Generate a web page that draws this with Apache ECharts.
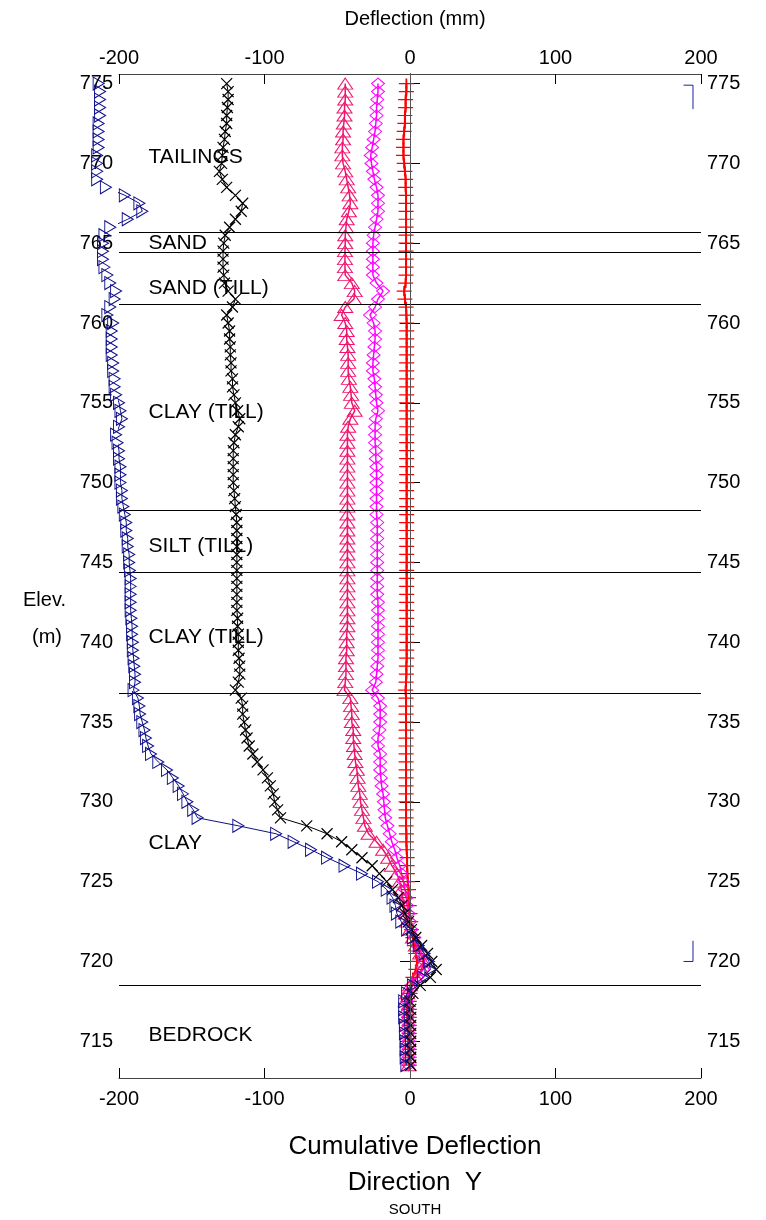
<!DOCTYPE html>
<html>
<head>
<meta charset="utf-8">
<script src="https://cdn.jsdelivr.net/npm/echarts@6/dist/echarts.min.js"></script>
<style>
  html, body { margin: 0; padding: 0; background: #fff; }
  #chart-container { width: 766px; height: 1220px; }
</style>
</head>
<body>
<div id="chart-container"></div>
<script>
// elevation of each reading (m)
var elevations = [
  775, 774.5, 774, 773.5, 773, 772.5, 772, 771.5, 771, 770.5,
  770, 769.5, 769, 768.5, 768, 767.5, 767, 766.5, 766, 765.5,
  765, 764.5, 764, 763.5, 763, 762.5, 762, 761.5, 761, 760.5,
  760, 759.5, 759, 758.5, 758, 757.5, 757, 756.5, 756, 755.5,
  755, 754.5, 754, 753.5, 753, 752.5, 752, 751.5, 751, 750.5,
  750, 749.5, 749, 748.5, 748, 747.5, 747, 746.5, 746, 745.5,
  745, 744.5, 744, 743.5, 743, 742.5, 742, 741.5, 741, 740.5,
  740, 739.5, 739, 738.5, 738, 737.5, 737, 736.5, 736, 735.5,
  735, 734.5, 734, 733.5, 733, 732.5, 732, 731.5, 731, 730.5,
  730, 729.5, 729, 728.5, 728, 727.5, 727, 726.5, 726, 725.5,
  725, 724.5, 724, 723.5, 723, 722.5, 722, 721.5, 721, 720.5,
  720, 719.5, 719, 718.5, 718, 717.5, 717, 716.5, 716, 715.5,
  715, 714.5, 714, 713.5
];

// cumulative deflection (mm), one value per elevation
var navyDefl = [
  -214, -213, -213, -213, -213, -214, -214, -214, -214, -215,
  -215, -215, -215, -209, -196, -186, -184, -194, -206, -210,
  -211, -211, -211, -210, -208, -206, -202, -203, -206, -208,
  -204, -205, -205, -205, -205, -204, -204, -203, -203, -202,
  -200, -199, -198, -200, -202, -201, -200, -200, -199, -199,
  -199, -198, -198, -197, -196, -195, -195, -194, -194, -193,
  -193, -192.5, -192, -192, -192, -192, -192, -191.5, -191, -191,
  -190.5, -190.5, -190, -189.5, -189, -189, -190, -187, -186, -185.5,
  -184, -182.5, -181.5, -180, -178, -173, -167, -163, -159, -156,
  -153, -149, -146, -118, -92, -80, -68, -57, -45, -33,
  -22, -16, -12, -10, -9, -6, -2, 2, 6, 10,
  13, 14, 9, 2, -2, -4, -4, -4, -3.5, -3.5,
  -3, -3, -3, -2.5
];
var blackDefl = [
  -126, -125, -125, -125.5, -126, -126, -127, -127.5, -128.5, -129,
  -129.5, -131, -129, -126, -120, -115, -116, -120, -124, -127,
  -128, -128.5, -128.5, -128.5, -128, -127.5, -125, -120, -122, -126,
  -125, -124, -124, -123.5, -123.5, -123, -123, -122, -122, -121,
  -120, -118.5, -117, -118, -120, -121, -121.5, -121.5, -121.5, -121.5,
  -121.5, -121, -120.5, -120, -119.5, -119, -119, -119, -119, -119,
  -119, -119, -119, -119, -119, -119, -119, -118.5, -118.5, -118,
  -118, -118, -117.5, -117, -117, -118, -120, -116, -115, -115,
  -114, -113, -112, -110.5, -108, -105, -101, -98, -96, -94,
  -93, -91, -89, -71, -57, -47, -40, -33, -26, -21,
  -16, -12, -8, -5.5, -3.5, -1, 1, 4, 8, 12,
  15, 18, 14, 7, 2, 0, 0.5, 0.5, 0.5, 0.5,
  0.5, 0.5, 0.5, 0.5
];
var pinkDefl = [
  -44.5, -44.5, -44.5, -45, -45, -45.5, -46, -46, -46.5, -46.5,
  -46, -44.5, -43.5, -42.5, -41.5, -41, -42, -43.5, -44, -44.5,
  -44.5, -44.7, -44.7, -44.7, -44.5, -40, -38, -38.5, -44.5, -47,
  -44.5, -43.5, -43.5, -43, -42.5, -42.5, -42.5, -42, -41, -40.5,
  -40, -38, -41, -42.5, -43, -43, -43, -43, -43, -43,
  -43, -43, -43, -43, -43, -43, -43, -43, -43, -43,
  -43, -43, -43, -43, -43, -43, -43, -43, -43, -43.5,
  -43.5, -43.5, -44, -44, -44, -44.5, -45, -41, -40.5, -40,
  -40, -39, -39, -38.5, -38, -37.5, -36.5, -36, -35.5, -34.5,
  -34, -33, -32, -31, -28.5, -23, -18.5, -15, -12.5, -9,
  -7, -6, -5, -4, -3, -2, 0, 2, 4, 7,
  9, 8, 4, 0, -2, -3, -2.5, -2, -2, -1.5,
  -1.5, -1.5, -1, -1
];
var magentaDefl = [
  -22, -22, -22.5, -23, -23, -23.5, -24, -25, -26, -27,
  -26.5, -25.5, -24.5, -23, -22, -22, -22, -23, -24, -25,
  -25.5, -25.5, -25.5, -25.5, -25.5, -23, -18.5, -22, -24, -27.5,
  -25, -24, -24, -24.5, -25, -25.5, -25.5, -24.5, -24, -23.5,
  -23, -22, -23.5, -24, -24, -24, -23.5, -23.5, -23, -23,
  -23, -23, -23, -23, -23, -22.5, -22.5, -22.5, -22.5, -22.5,
  -22.5, -22.5, -22.5, -22.5, -22.5, -22, -22, -22, -22, -22,
  -22, -22, -22, -22.5, -23, -23.5, -26, -22, -20.5, -20.5,
  -20.5, -21, -22, -22, -20.5, -20.5, -20.5, -20, -19.5, -18.5,
  -18, -17.5, -17, -15.5, -14, -12.5, -10.5, -9, -7, -5.8,
  -4.5, -3.5, -2.5, -2, -1, 0, 1, 3, 5, 8,
  10, 9, 5, 1, -1, -2, -1.5, -1.5, -1, -1,
  -1, -1, -1, -1
];
var redDefl = [
  -2.5, -2.5, -3, -3, -3.5, -3.5, -4, -4.5, -4.5, -4.5,
  -4, -3.5, -3, -3, -2.7, -2.7, -2.7, -2.7, -2.7, -2.7,
  -2.7, -2.7, -2.7, -2.7, -2.7, -3, -4, -3.5, -2.7, -2.5,
  -2.3, -2.3, -2.3, -2.3, -2.3, -2.3, -2.3, -2.3, -2.3, -2.3,
  -2.3, -2.3, -2.3, -2.3, -2.3, -2.3, -2.3, -2.3, -2.3, -2.3,
  -2.3, -2.3, -2.3, -2.3, -2.3, -2.3, -2.3, -2.3, -2.3, -2.3,
  -2.3, -2.3, -2.3, -2.3, -2.3, -2.3, -2.3, -2.3, -2.3, -2.3,
  -2.3, -2.3, -2.3, -2.5, -2.5, -2.7, -3, -2.7, -2.7, -2.7,
  -2.7, -2.7, -2.7, -2.7, -2.7, -2.7, -2.7, -2.7, -2.7, -2.7,
  -2.7, -2.7, -2.7, -2.7, -2.5, -2.5, -2.3, -2, -2, -1.8,
  -1.5, -1, -1, -0.5, 0, 0.5, 1, 2, 3, 4,
  5, 4, 2, 1, 0, -0.5, -0.5, -0.5, -0.5, -0.5,
  -0.5, -0.5, -0.5, -0.5
];

// small blue brackets at the right edge: [deflection, elevation]
var bracketTop = [[188, 774.9], [194.5, 774.9], [194.5, 773.4]];
var bracketBottom = [[194.5, 721.3], [194.5, 720.0], [188, 720.0]];

// soil layers
var layerBounds = [765.7, 764.45, 761.15, 748.3, 744.4, 736.8, 718.5];
var layerNames = ["TAILINGS", "SAND", "SAND (TILL)", "CLAY (TILL)", "SILT (TILL)", "CLAY (TILL)", "CLAY", "BEDROCK"];
var layerLabelElev = [770.4, 765.0, 762.2, 754.4, 746.0, 740.3, 727.4, 715.4];
var layerLabelX = -180;

var elevTicks = [715, 720, 725, 730, 735, 740, 745, 750, 755, 760, 765, 770, 775];

var FONT = "Liberation Sans, Arial, sans-serif";

function pairs(values) {
  return values.map(function (v, i) { return [v, elevations[i]]; });
}

var dom = document.getElementById("chart-container");
var myChart = echarts.init(dom, null, { renderer: "canvas" });

var yAxisBase = {
  type: "value",
  min: 712.7,
  max: 775.6,
  axisLine: { show: true, lineStyle: { color: "#444", width: 1 } },
  axisTick: { show: true, inside: true, length: 10, customValues: elevTicks, lineStyle: { color: "#000" } },
  axisLabel: { customValues: elevTicks, fontSize: 20, color: "#000", fontFamily: FONT, margin: 6 },
  splitLine: { show: false }
};
var xAxisBase = {
  type: "value",
  min: -200,
  max: 200,
  interval: 100,
  axisLine: { show: true, onZero: false, lineStyle: { color: "#444", width: 1 } },
  axisTick: { show: true, inside: true, length: 10, lineStyle: { color: "#000" } },
  axisLabel: { fontSize: 20, color: "#000", fontFamily: FONT, margin: 11 },
  splitLine: { show: false }
};

var hollow = function (c) {
  return { color: "rgba(0,0,0,0)", borderColor: c, borderWidth: 1 };
};

var titleText = function (size) {
  return { fontSize: size, fontWeight: "normal", color: "#000", fontFamily: FONT };
};

var option = {
  animation: false,
  backgroundColor: "#fff",
  textStyle: { fontFamily: FONT },
  title: [
    { text: "Deflection (mm)", left: 410, top: 4, textAlign: "center", textStyle: titleText(20) },
    { text: "Cumulative Deflection", left: 410, top: 1129, textAlign: "center", textStyle: titleText(26) },
    { text: "Direction  Y", left: 410, top: 1165, textAlign: "center", textStyle: titleText(26) },
    { text: "SOUTH", left: 410, top: 1197, textAlign: "center", textStyle: titleText(15) },
    { text: "Elev.", left: 18, top: 585, textStyle: titleText(20) },
    { text: "(m)", left: 27, top: 622, textStyle: titleText(20) }
  ],
  grid: { left: 119, right: 65, top: 74, bottom: 142, containLabel: false },
  xAxis: [
    Object.assign({}, xAxisBase, { position: "bottom" }),
    Object.assign({}, xAxisBase, {
      position: "top",
      axisLabel: { fontSize: 20, color: "#000", fontFamily: FONT, margin: 6 }
    })
  ],
  yAxis: [
    Object.assign({}, yAxisBase, { position: "left" }),
    Object.assign({}, yAxisBase, { position: "right", axisLine: { show: true, lineStyle: { color: "#000", width: 1 } } })
  ],
  series: [
    {
      name: "layers",
      type: "scatter",
      symbolSize: 1,
      itemStyle: { color: "rgba(0,0,0,0)", opacity: 1 },
      label: {
        show: true, position: "right", distance: 0, formatter: "{b}",
        fontSize: 21, color: "#000", fontFamily: FONT
      },
      data: layerNames.map(function (n, i) {
        return { name: n, value: [layerLabelX, layerLabelElev[i]] };
      }),
      markLine: {
        silent: true,
        symbol: "none",
        label: { show: false },
        animation: false,
        data: layerBounds.map(function (e) {
          return { yAxis: e, lineStyle: { color: "#000", width: 1, type: "solid" } };
        }).concat([{ xAxis: 0, lineStyle: { color: "#555", width: 1, type: "solid" } }])
      },
      z: 1
    },
    {
      name: "red",
      type: "line",
      clip: false,
      showAllSymbol: true,
      symbol: "path://M0,5L15,5M7.5,0L7.5,10",
      symbolSize: [15, 10],
      itemStyle: { color: "rgba(0,0,0,0)", borderColor: "#ff0000", borderWidth: 1.5 },
      lineStyle: { color: "#ff0000", width: 2 },
      data: pairs(redDefl),
      z: 3
    },
    {
      name: "magenta",
      type: "line",
      clip: false,
      showAllSymbol: true,
      symbol: "diamond",
      symbolSize: [13, 11],
      itemStyle: hollow("#ff00ff"),
      lineStyle: { color: "#ff00ff", width: 1.5 },
      data: pairs(magentaDefl),
      z: 3
    },
    {
      name: "pink",
      type: "line",
      clip: false,
      showAllSymbol: true,
      symbol: "triangle",
      symbolSize: [15, 11],
      itemStyle: hollow("#f0146e"),
      lineStyle: { color: "#f0146e", width: 1.5 },
      data: pairs(pinkDefl),
      z: 3
    },
    {
      name: "black",
      type: "line",
      clip: false,
      showAllSymbol: true,
      symbol: "path://M0,0L10,10M10,0L0,10",
      symbolSize: 11,
      itemStyle: { color: "rgba(0,0,0,0)", borderColor: "#000", borderWidth: 1.2 },
      lineStyle: { color: "#000", width: 1 },
      data: pairs(blackDefl),
      z: 4
    },
    {
      name: "navy",
      type: "line",
      clip: false,
      showAllSymbol: true,
      symbol: "triangle",
      symbolRotate: -90,
      symbolSize: [13, 11],
      itemStyle: hollow("#10108a"),
      lineStyle: { color: "#10108a", width: 1 },
      data: pairs(navyDefl),
      z: 5
    },
    {
      name: "bracketTop",
      type: "line",
      symbol: "none",
      lineStyle: { color: "#2020a0", width: 1 },
      data: bracketTop,
      z: 5
    },
    {
      name: "bracketBottom",
      type: "line",
      symbol: "none",
      lineStyle: { color: "#2020a0", width: 1 },
      data: bracketBottom,
      z: 5
    }
  ]
};

myChart.setOption(option);
window.addEventListener("resize", myChart.resize);
</script>
</body>
</html>
